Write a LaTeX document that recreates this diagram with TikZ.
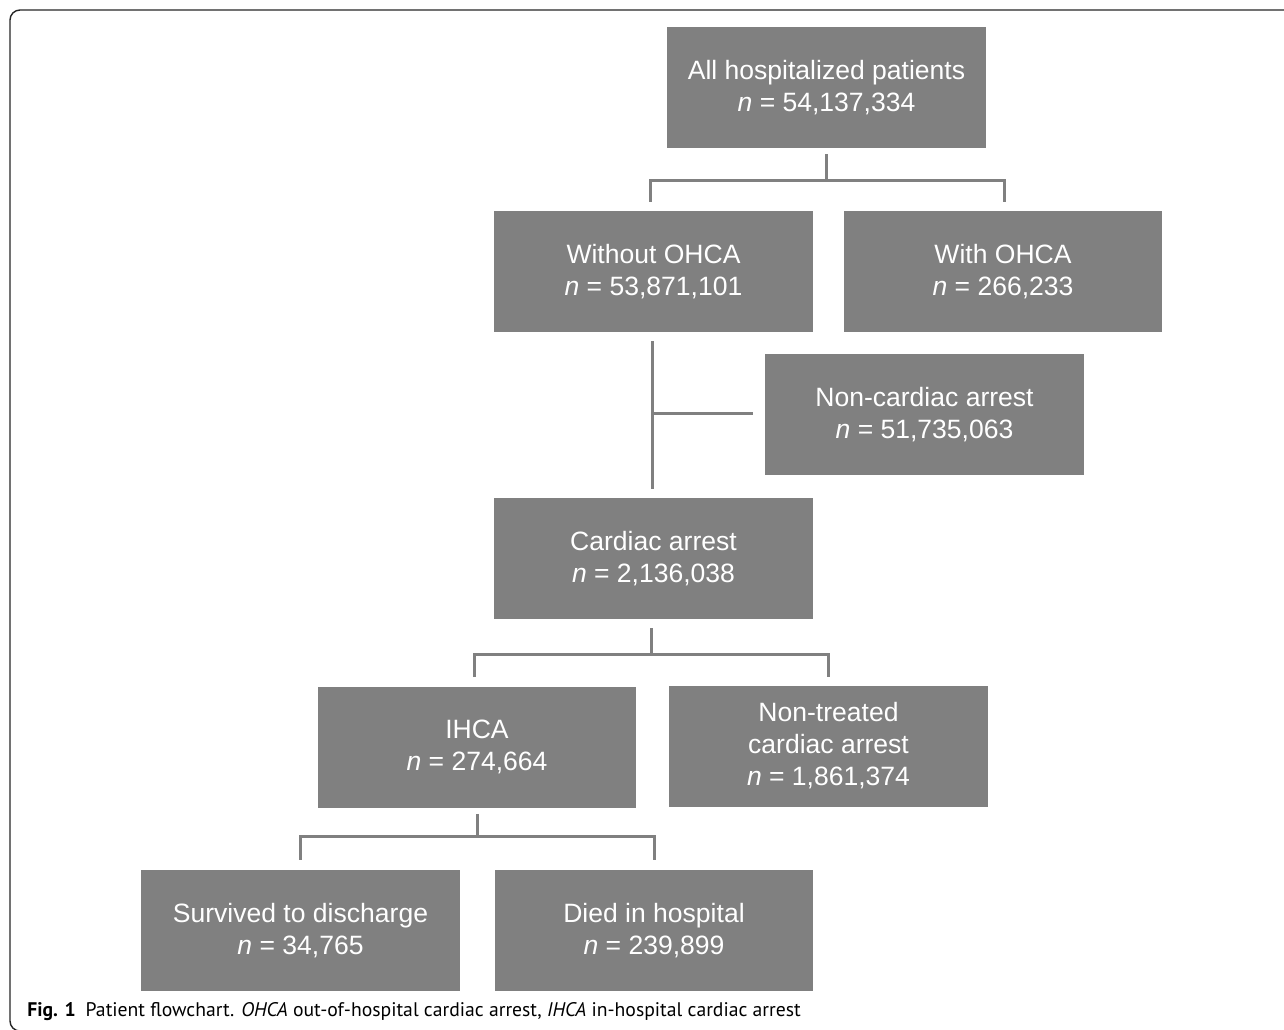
\documentclass[tikz,border=0pt]{standalone}
\usepackage{fontspec}
\setmainfont{Liberation Sans}
\newfontfamily\capfont{PT Sans}
\usetikzlibrary{calc}
\definecolor{boxgray}{RGB}{128,128,128}

\begin{document}
\begin{tikzpicture}[x=0.02cm,y=-0.02cm,line join=miter,
  box/.style={fill=boxgray,text=white,inner sep=0pt,minimum width=6.38cm,
    minimum height=2.42cm,align=center,
    font=\fontsize{15.1pt}{18.2pt}\selectfont},
  link/.style={draw=boxgray,line width=0.06cm}]

\clip (0,0) rectangle (1284,1029);

%% ---------------- frame, open to the right and below ----------------
\draw[black!85,line width=0.8pt,rounded corners=0.2cm]
     (1300,10) -- (10,10) -- (10,1031) -- (1300,1031);

%% ---------------- boxes ----------------
\node[box] (all) at (826.5,87.5) {All hospitalized patients\\\textit{n} = 54,137,334};
\node[box] (without) at (653.5,271.5) {Without OHCA\\\textit{n} = 53,871,101};
\node[box] (with) at (1003,271.5) {With OHCA\\\textit{n} = 266,233};
\node[box] (noncard) at (924.5,414.5) {Non-cardiac arrest\\\textit{n} = 51,735,063};
\node[box] (cardiac) at (653.5,558.5) {Cardiac arrest\\\textit{n} = 2,136,038};
\node[box] (ihca) at (477,747) {IHCA\\\textit{n} = 274,664};
\node[box] (nontreat) at (828.5,746) {Non-treated\\cardiac arrest\\\textit{n} = 1,861,374};
\node[box] (survived) at (300.5,930.5) {Survived to discharge\\\textit{n} = 34,765};
\node[box] (died) at (654,930.5) {Died in hospital\\\textit{n} = 239,899};

%% ---------------- connectors ----------------
%% all patients split by OHCA
\draw[link] ($(all.south)+(0,6)$) -- ++(0,26) coordinate (j1);
\draw[link] ($(without.north)+(-3.5,-9)$) |- (j1) -| ($(with.north)+(1,-9)$);
%% without OHCA down to cardiac arrest, side branch to the rest
\draw[link] ($(without.south)+(-1.5,9)$) -- ($(cardiac.north)+(-1.5,-9)$);
\draw[link] ($(noncard.west)+(-12,-1)$) -- ($(noncard.west -| without.south)+(-1.5,-1)$);
%% cardiac arrest split
\draw[link] ($(cardiac.south)+(-2.5,9)$) -- ++(0,26) coordinate (j2);
\draw[link] ($(ihca.north)+(-3,-9)$) |- (j2) -| ($(nontreat.north)+(0,-8)$);
%% IHCA outcome
\draw[link] ($(ihca.south)+(0,6)$) -- ++(0,23) coordinate (j3);
\draw[link] ($(survived.north)+(0,-10)$) |- (j3) -| ($(died.north)+(0,-10)$);

%% ---------------- caption ----------------
\node[anchor=base west,inner sep=0pt,font=\capfont\fontsize{11.2pt}{13pt}\selectfont]
     (caption) at (27,1016)
     {\textbf{Fig. 1}\enspace Patient flowchart. \textit{OHCA} out-of-hospital cardiac arrest, \textit{IHCA} in-hospital cardiac arrest};

\end{tikzpicture}
\end{document}
